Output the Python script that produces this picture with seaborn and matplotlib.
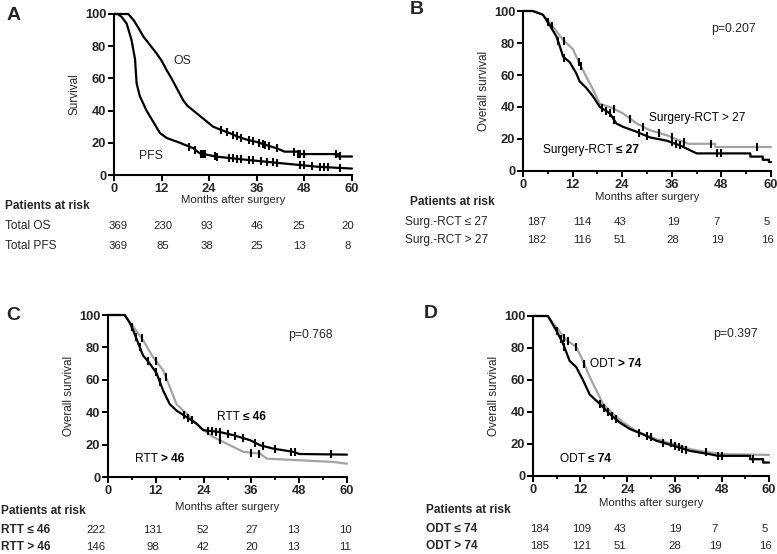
import numpy as np
import pandas as pd
import matplotlib
matplotlib.use("Agg")
import matplotlib.pyplot as plt
from matplotlib.ticker import MultipleLocator
from matplotlib.offsetbox import TextArea, HPacker, AnnotationBbox
import seaborn as sns

sns.set_theme(style="ticks")
FONT = ["Liberation Sans", "DejaVu Sans"]
plt.rcParams["font.family"] = FONT

# ---------------- data ----------------
# Panel A
a_os_t = [0, 3.6, 5, 6, 7.4, 9, 10.7, 12, 13.3, 14.5, 15.8, 17.4, 18.5, 20, 22.5, 25, 27, 29.2, 31, 33.4, 36, 38.4, 41, 43, 46.5, 46.5, 56.5, 56.5, 60]
a_os_s = [100, 100, 96, 92, 86, 81, 75.6, 71, 65, 60, 54, 46.6, 43, 40, 35, 30, 28, 26, 24, 22, 20.5, 18.6, 16.6, 14.5, 14.5, 13, 13, 11.5, 11.5]
a_os_cens = [27, 28.5, 30, 31, 32, 34, 35, 36.5, 37.5, 38, 39, 41, 45.5, 46.5, 47, 48, 56, 57]
a_pfs_t = [0, 1, 2, 3.2, 4.4, 5.3, 5.7, 6.5, 8.2, 9.9, 11.6, 13.3, 16.6, 20, 21.6, 25.8, 34, 42.6, 51, 56, 60]
a_pfs_s = [100, 100, 98, 94, 84, 72, 57, 49, 40, 33, 26, 23, 20, 16.6, 13.5, 11.4, 9.3, 7.2, 5.2, 4.5, 4]
a_pfs_cens = [19, 20.5, 22, 22.5, 23, 25.5, 26, 29, 30, 31, 32, 34, 35, 37, 38.5, 40, 41, 47, 48, 50, 52, 53, 54, 57]

# Panel B
b_lo_t = [0, 2.4, 4.8, 6.5, 8.1, 8.9, 9.7, 11.3, 12.9, 13.7, 15.3, 17, 18.6, 21, 22.6, 24.2, 27.5, 30.7, 34.7, 38, 41.2, 42, 55, 55, 58, 58, 59.5, 59.5, 60]
b_lo_s = [100, 100, 97.7, 91, 84, 78, 71.5, 68, 61, 56, 52, 46.4, 40, 36, 29.7, 27.6, 24.5, 21, 19, 16, 12, 11, 11, 9, 9, 7, 7, 5.6, 5.6]
b_lo_cens = [6, 8.5, 10, 19, 20, 21, 22, 28, 30, 36, 37, 38, 47, 48]
b_hi_t = [0, 2.4, 4.8, 7.3, 9.7, 12.1, 13.7, 15.3, 17, 18.6, 21, 24.2, 27.5, 30.7, 34.7, 38.8, 40, 46.5, 46.5, 60]
b_hi_s = [100, 100, 97.7, 90, 82, 76, 67, 59, 50.6, 42, 40, 36, 29.7, 25.5, 22.4, 18.2, 17, 17, 15, 15]
b_hi_cens = [7, 10, 13.5, 14, 22, 26, 29, 33, 36, 39, 45.5, 56.5]

# Panel C
c_lo_t = [0, 4.2, 5.5, 6.3, 8, 8.8, 10.5, 12.2, 13.8, 15.5, 17.2, 19.7, 22.2, 23.9, 28, 31.5, 35.7, 38.2, 41.5, 46.6, 48, 60]
c_lo_s = [100, 100, 95, 90.7, 80, 75, 70, 64, 53.6, 45, 41, 37, 33, 28.9, 27.8, 25.8, 22.7, 19.6, 17.5, 15.5, 14.2, 13.8]
c_lo_cens = [6, 7, 8, 10, 12, 13, 19, 20, 21, 25, 26, 27, 28, 30, 32, 34, 37, 39, 42, 46, 47, 56]
c_hi_t = [0, 4.2, 6.3, 8.8, 11.3, 13.8, 15.5, 17.2, 19.7, 23, 26.4, 29.8, 34, 38.2, 39.9, 48.2, 56.6, 60]
c_hi_s = [100, 100, 92.8, 84.5, 74, 66, 55.7, 45, 39, 31, 24.7, 20.6, 15.5, 14.4, 11.3, 10.3, 9.3, 8.2]
c_hi_cens = [8.5, 12, 14.5, 28, 36, 38]

# Panel D
d_lo_t = [0, 3.8, 5.9, 7.6, 9.3, 11, 12.7, 14.4, 17, 19.5, 22, 24.6, 28, 31.4, 35.6, 39.9, 45, 47, 55.2, 55.2, 58.5, 58.5, 60]
d_lo_s = [100, 100, 91, 83, 72, 68, 60, 51, 45, 38.8, 33.5, 29.4, 26, 22, 19, 15.7, 13.6, 12.6, 12.6, 10.5, 10.5, 8.4, 8.4]
d_lo_cens = [6, 7, 8, 17, 18, 19, 20, 21, 27, 29, 33, 36, 37, 38, 39, 47, 48, 56]
d_hi_t = [0, 3.8, 5.9, 8.5, 11, 12.7, 14.4, 16.1, 17.8, 20.4, 22.9, 26.3, 31.4, 35.6, 39.9, 45, 48.4, 60]
d_hi_s = [100, 100, 93, 85, 80.7, 72, 62, 53.5, 45, 38.8, 33.5, 28, 23, 20, 16.8, 14.7, 13.6, 13.2]
d_hi_cens = [8, 9, 11, 13, 30, 35, 44]

# Risk tables
risk_months = [0, 12, 24, 36, 48, 60]
a_risk_labels = ["Total OS", "Total PFS"]
a_risk = [[369, 230, 93, 46, 25, 20], [369, 85, 38, 25, 13, 8]]
b_risk_labels = ["Surg.-RCT \u2264 27", "Surg.-RCT > 27"]
b_risk = [[187, 114, 43, 19, 7, 5], [182, 116, 51, 28, 19, 16]]
c_risk_labels = ["RTT \u2264 46", "RTT > 46"]
c_risk = [[222, 131, 52, 27, 13, 10], [146, 98, 42, 20, 13, 11]]
d_risk_labels = ["ODT \u2264 74", "ODT > 74"]
d_risk = [[184, 109, 43, 19, 7, 5], [185, 121, 51, 28, 19, 16]]

# ---------------- layout ----------------
W, H = 777, 554
fig = plt.figure(figsize=(W / 100, H / 100), dpi=100)
BLACK = "#000000"
GREY = "#a3a3a3"
FS = 7.6
TICK_FS = 9.3


def add_ax(l, r, t, b):
    return fig.add_axes([l / W, (H - b) / H, (r - l) / W, (b - t) / H])


def fy(ypx):
    return (H - ypx) / H


def style_ax(ax, ylabel, minor=True):
    ax.set_xlim(0, 60)
    ax.set_ylim(0, 100)
    ax.set_xticks(risk_months)
    ax.set_yticks([0, 20, 40, 60, 80, 100])
    if minor:
        ax.xaxis.set_minor_locator(MultipleLocator(6))
    sns.despine(ax=ax)
    for s in ("left", "bottom"):
        ax.spines[s].set_linewidth(1.5)
        ax.spines[s].set_color("black")
    ax.tick_params(axis="both", which="major", direction="out", length=4, width=1.4,
                   labelsize=TICK_FS, pad=1.5, color="black")
    ax.tick_params(axis="x", which="minor", direction="out", length=2.5, width=1.3, color="black")
    for lab in ax.get_xticklabels() + ax.get_yticklabels():
        lab.set_fontweight("bold")
    ax.set_ylabel(ylabel, fontsize=FS + 0.9, labelpad=3)
    ax.set_xlabel("")
    ax.grid(False)
    ax.set_facecolor("white")


def curve(ax, t, s, color, cens):
    df = pd.DataFrame({"t": t, "s": s})
    sns.lineplot(data=df, x="t", y="s", ax=ax, color=color, lw=1.6,
                 estimator=None, sort=False, clip_on=False)
    tt = np.asarray(t, float)
    ss = np.asarray(s, float)
    cs = [np.interp(c, tt, ss) for c in cens]
    cdf = pd.DataFrame({"t": cens, "s": cs})
    sns.scatterplot(data=cdf, x="t", y="s", ax=ax, marker="|", s=26, color="black",
                    linewidth=1.5, clip_on=False, zorder=3)


def mixed(ax, x, y, parts, fs=FS + 1):
    boxes = [TextArea(txt, textprops=dict(fontsize=fs, fontweight=w, family=FONT, color="black"))
             for txt, w in parts]
    pack = HPacker(children=boxes, align="baseline", pad=0, sep=0)
    ab = AnnotationBbox(pack, (x, y), xycoords="data", frameon=False,
                        box_alignment=(0, 0.5), pad=0)
    ax.add_artist(ab)


def risk_table(ax, lab_x, par_x, ys, labels, rows, cols_px, bold_labels, xlab_y):
    fig.text(((ax.get_position().x0 + ax.get_position().x1) / 2), fy(xlab_y),
             "Months after surgery", ha="center", va="center", fontsize=FS + 0.6)
    fig.text(par_x / W, fy(ys[0]), "Patients at risk", ha="left", va="center",
             fontsize=FS + 1, fontweight="bold")
    for i, (lab, row) in enumerate(zip(labels, rows)):
        fig.text(lab_x / W, fy(ys[i + 1]), lab, ha="left", va="center", fontsize=FS + 1,
                 fontweight="bold" if bold_labels else "normal")
        for xp, v in zip(cols_px, row):
            fig.text(xp / W, fy(ys[i + 1]), str(v), ha="center", va="center", fontsize=FS + 0.6)


# Panel A
axA = add_ax(114, 352, 14, 175)
curve(axA, a_pfs_t, a_pfs_s, BLACK, a_pfs_cens)
curve(axA, a_os_t, a_os_s, BLACK, a_os_cens)
style_ax(axA, "Survival", minor=False)
axA.text(17.3, 71, "OS", fontsize=FS + 1.2, ha="center", va="center")
axA.text(9.3, 12, "PFS", fontsize=FS + 1.2, ha="center", va="center")
fig.text(7 / W, fy(15), "A", fontsize=14, fontweight="bold", va="center", ha="left")
risk_table(axA, 5, 5, [206, 226, 246], a_risk_labels, a_risk,
           [118, 163, 207, 257, 299, 348], False, 200)

# Panel B
axB = add_ax(523, 771, 11, 171)
curve(axB, b_hi_t, b_hi_s, GREY, b_hi_cens)
curve(axB, b_lo_t, b_lo_s, BLACK, b_lo_cens)
style_ax(axB, "Overall survival")
axB.text(51, 89, "p=0.207", fontsize=FS + 1.2, ha="center", va="center")
mixed(axB, 30.6, 33, [("Surgery-RCT > 27", "normal")])
mixed(axB, 4.9, 13, [("Surgery-RCT ", "normal"), ("\u2264 27", "bold")])
fig.text(410 / W, fy(9), "B", fontsize=14, fontweight="bold", va="center", ha="left")
risk_table(axB, 405, 410, [202, 222, 240], b_risk_labels, b_risk,
           [537, 582, 620, 673, 717, 767], False, 197)

# Panel C
axC = add_ax(108, 347, 315, 477)
curve(axC, c_hi_t, c_hi_s, GREY, c_hi_cens)
curve(axC, c_lo_t, c_lo_s, BLACK, c_lo_cens)
style_ax(axC, "Overall survival")
axC.text(50.8, 87.6, "p=0.768", fontsize=FS + 1.2, ha="center", va="center")
mixed(axC, 27.3, 37, [("RTT ", "normal"), ("\u2264 46", "bold")])
mixed(axC, 6.7, 11.3, [("RTT ", "normal"), ("> 46", "bold")])
fig.text(6 / W, fy(315), "C", fontsize=14, fontweight="bold", va="center", ha="left")
risk_table(axC, 1, 1, [511, 530, 547], c_risk_labels, c_risk,
           [96, 153, 203, 252, 293, 345], True, 507)

# Panel D
axD = add_ax(533, 769, 316, 476)
curve(axD, d_hi_t, d_hi_s, GREY, d_hi_cens)
curve(axD, d_lo_t, d_lo_s, BLACK, d_lo_cens)
style_ax(axD, "Overall survival")
axD.text(51.4, 89, "p=0.397", fontsize=FS + 1.2, ha="center", va="center")
mixed(axD, 14.4, 70, [("ODT ", "normal"), ("> 74", "bold")])
mixed(axD, 6.8, 10.5, [("ODT ", "normal"), ("\u2264 74", "bold")])
fig.text(424 / W, fy(314), "D", fontsize=14, fontweight="bold", va="center", ha="left")
risk_table(axD, 426, 426, [510, 529, 546], d_risk_labels, d_risk,
           [540, 582, 620, 675, 715, 765], True, 503)

fig.savefig("out.png", dpi=100, facecolor="white")
